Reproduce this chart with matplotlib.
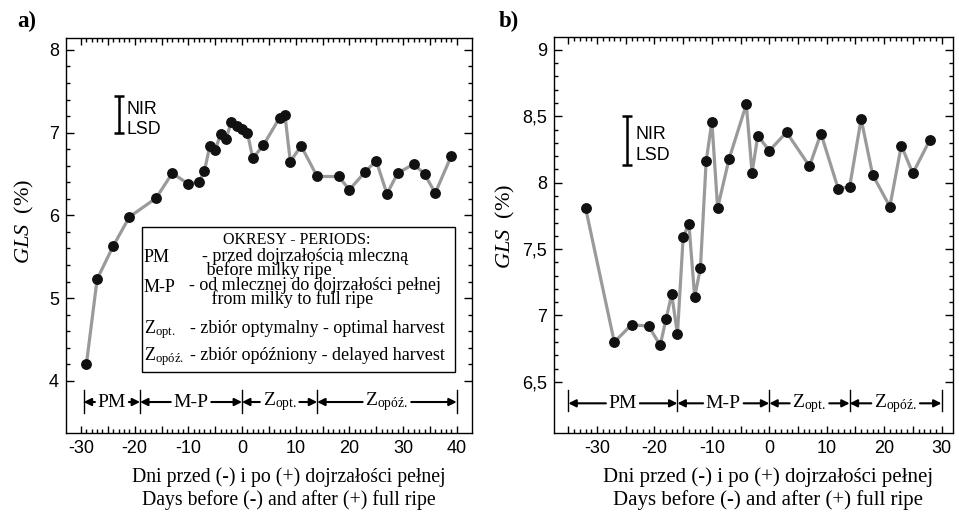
import numpy as np
import matplotlib
matplotlib.use("Agg")
import matplotlib.pyplot as plt
import matplotlib.transforms as mtransforms
from matplotlib.ticker import FixedLocator, FuncFormatter
from matplotlib.patches import Rectangle

plt.rcParams['font.family'] = ['Liberation Sans', 'DejaVu Sans']
plt.rcParams['mathtext.fontset'] = 'custom'
plt.rcParams['mathtext.rm'] = 'Liberation Serif'
plt.rcParams['mathtext.it'] = 'Liberation Serif:italic'

# a) days vs GLS
days_a = [-29, -27, -24, -21, -16, -13, -10, -8, -7, -6, -5, -4, -3, -2, -1, 0, 1, 2,
          4, 7, 8, 9, 11, 14, 18, 20, 23, 25, 27, 29, 32, 34, 36, 39]
gls_a = [4.20, 5.23, 5.63, 5.98, 6.21, 6.51, 6.38, 6.40, 6.54, 6.84, 6.79, 6.98, 6.92,
         7.13, 7.08, 7.04, 7.00, 6.69, 6.85, 7.18, 7.21, 6.65, 6.84, 6.47, 6.47, 6.31,
         6.53, 6.66, 6.26, 6.51, 6.62, 6.50, 6.27, 6.72]

# b) days vs GLS
days_b = [-32, -27, -24, -21, -19, -18, -17, -16, -15, -14, -13, -12, -11, -10, -9, -7,
          -4, -3, -2, 0, 3, 7, 9, 12, 14, 16, 18, 21, 23, 25, 28]
gls_b = [7.81, 6.80, 6.93, 6.92, 6.775, 6.97, 7.16, 6.86, 7.59, 7.69, 7.14, 7.355, 8.16,
         8.46, 7.81, 8.18, 8.59, 8.075, 8.355, 8.24, 8.38, 8.125, 8.37, 7.955, 7.97,
         8.48, 8.06, 7.82, 8.28, 8.07, 8.325]

period_names = ['PM', 'M-P', r'Z$_{\mathrm{opt.}}$', r'Z$_{\mathrm{opóź.}}$']
bounds_a = [-29.5, -19, 0, 14, 40]
bounds_b = [-35, -16, 0, 14, 30]

# NIR / LSD bar: x, low, high
nir_a = (-23, 6.99, 7.44)
nir_b = (-24.7, 8.137, 8.5)

xlab1 = 'Dni przed (-) i po (+) dojrzałości pełnej'
xlab2 = 'Days before (-) and after (+) full ripe'

serif = 'Liberation Serif'

fig = plt.figure(figsize=(9.59, 5.12), dpi=100)
W, H = 959.0, 512.0


def px_axes(x0, x1, y0, y1):
    return fig.add_axes([x0 / W, 1 - y1 / H, (x1 - x0) / W, (y1 - y0) / H])


ax1 = px_axes(66, 472, 38.3, 433)
ax2 = px_axes(554, 953, 37.3, 433)


def setup(ax, xlim, ylim, xr, yticks, yminor, ylabels):
    ax.set_xlim(xlim)
    ax.set_ylim(ylim)
    xmaj = list(range(xr[0], xr[1] + 1, 5))
    ax.xaxis.set_major_locator(FixedLocator(xmaj))
    ax.xaxis.set_minor_locator(FixedLocator(list(range(xr[0], xr[1] + 1))))
    ax.xaxis.set_major_formatter(FuncFormatter(lambda v, p: str(int(round(v))) if round(v) % 10 == 0 else ''))
    ax.yaxis.set_major_locator(FixedLocator(yticks))
    ax.yaxis.set_minor_locator(FixedLocator(yminor))
    ax.set_yticklabels(ylabels)
    ax.tick_params(which='both', direction='in', top=True, right=True, labelsize=13, width=1)
    ax.tick_params(which='major', length=6)
    ax.tick_params(which='minor', length=3)
    ax.tick_params(axis='x', which='major', length=5, pad=5)
    ax.tick_params(axis='y', pad=5)
    for s in ax.spines.values():
        s.set_linewidth(1.0)


def periods(ax, bounds, yrow, ylo, yhi, fs):
    trans = mtransforms.blended_transform_factory(ax.transData, ax.transAxes)
    for b in bounds:
        ax.plot([b, b], [ylo, yhi], color='black', lw=1, transform=trans)
    for name, l, r in zip(period_names, bounds[:-1], bounds[1:]):
        c = (l + r) / 2
        for end, col in ((l, 'black'), (r, 'none')):
            ax.annotate(name, xy=(end, yrow), xytext=(c, yrow), xycoords=trans,
                        textcoords=trans, ha='center', va='center', color=col,
                        fontsize=fs, family=serif,
                        arrowprops=dict(arrowstyle='-|>', color='black', lw=1.5,
                                        shrinkA=0, shrinkB=0, mutation_scale=11))


def nir(ax, pos):
    x, lo, hi = pos
    mid = (lo + hi) / 2
    ax.errorbar([x], [mid], yerr=[[mid - lo], [hi - mid]], fmt='none',
                ecolor='black', elinewidth=1.8, capsize=3.8, capthick=1.8)
    ax.annotate('NIR', xy=(x, mid), xytext=(5.5, 0.7), textcoords='offset points',
                ha='left', va='baseline', fontsize=12.8)
    ax.annotate('LSD', xy=(x, mid), xytext=(5.5, -13.9), textcoords='offset points',
                ha='left', va='baseline', fontsize=12.8)


for ax, d, g in ((ax1, days_a, gls_a), (ax2, days_b, gls_b)):
    ax.plot(d, g, color='#9a9a9a', lw=2.3, marker='o', ms=6.8, mfc='#111111', mec='#111111',
            zorder=3)

setup(ax1, (-32.8, 42.85), (3.37, 8.14), (-30, 40), [4, 5, 6, 7, 8],
      np.arange(4, 8.01, 0.2), ['4', '5', '6', '7', '8'])
setup(ax2, (-37.5, 32.0), (6.115, 9.095), (-35, 30), [6.5, 7, 7.5, 8, 8.5, 9],
      np.arange(6.5, 9.01, 0.1), ['6,5', '7', '7,5', '8', '8,5', '9'])

periods(ax1, bounds_a, 0.0785, 0.051, 0.109, 14)
periods(ax2, bounds_b, 0.075, 0.055, 0.109, 14)
nir(ax1, nir_a)
nir(ax2, nir_b)


def yfrac(ypx):
    return 1 - (ypx - 38.3) / 394.7


# legend box in panel a (text placed on baselines, pixel rows of the reference)
ax1.add_patch(Rectangle((0.1865, 0.1553), 0.958 - 0.1865, 0.5212 - 0.1553,
                        transform=ax1.transAxes, fill=False, lw=1.0, zorder=4))
ax1.text(0.568, yfrac(244.5), 'OKRESY - PERIODS:', transform=ax1.transAxes, ha='center',
         va='baseline', fontsize=11.5, family=serif)
lfs = 13
# (key baseline, key, desc x, description, baseline of the description's last line)
rows = [
    (262, 'PM', 0.3342, '- przed dojrzałością mleczną\n before milky ripe', 275),
    (291.5, 'M-P', 0.303, '- od mlecznej do dojrzałości pełnej\n     from milky to full ripe', 304.5),
    (333, period_names[2], 0.3054, '- zbiór optymalny - optimal harvest', 333),
    (360, period_names[3], 0.3054, '- zbiór opóźniony - delayed harvest', 360),
]
for ypx, key, xd, desc, ylast in rows:
    ax1.text(0.1921, yfrac(ypx), key, transform=ax1.transAxes, ha='left', va='baseline',
             fontsize=lfs, family=serif)
    ax1.text(xd, yfrac(ylast), desc, transform=ax1.transAxes, ha='left',
             va='baseline', fontsize=lfs, family=serif, linespacing=0.74)

# axis labels
for cx, lx, ly, fs in ((289, 24, 221, 14.2), (768, 505, 226, 15)):
    fig.text(cx / W, 1 - 477 / H, xlab1, ha='center', va='center', fontsize=fs, family=serif)
    fig.text(cx / W, 1 - 500 / H, xlab2, ha='center', va='center', fontsize=fs, family=serif)
    fig.text(lx / W, 1 - ly / H, r'$\mathit{GLS}$  (%)', rotation=90, ha='center',
             va='center', fontsize=16, family=serif)

fig.text(27 / W, 1 - 21 / H, 'a)', ha='center', va='center', fontsize=16.5,
         family=serif, weight='bold')
fig.text(509 / W, 1 - 21 / H, 'b)', ha='center', va='center', fontsize=16.5,
         family=serif, weight='bold')

fig.savefig('out.png', dpi=100)
